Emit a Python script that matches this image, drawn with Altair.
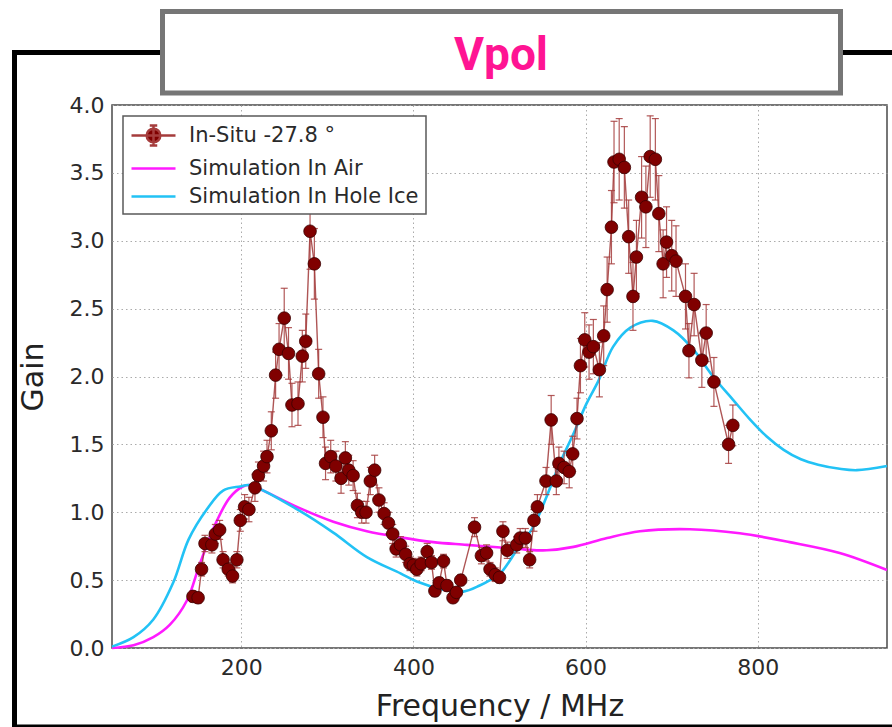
import altair as alt
import pandas as pd

# ---------------- data ----------------
FREQ = [144, 150, 154, 158, 166, 170, 175, 179, 185, 190, 195, 199, 204, 209, 216, 220,
        226, 230, 235, 240, 244, 250, 255, 259, 266, 271, 275, 280, 285, 290, 295, 298,
        304, 310, 316, 321, 325, 330, 335, 340, 345, 350, 355, 360, 366, 371, 376, 380,
        385, 391, 396, 400, 404, 409, 416, 421, 425, 430, 435, 439, 446, 450, 455, 471,
        479, 485, 489, 495, 500, 504, 509, 520, 524, 530, 535, 540, 544, 554, 560, 566,
        569, 575, 581, 585, 590, 594, 599, 604, 609, 616, 621, 625, 630, 633, 639, 645,
        650, 655, 659, 665, 670, 675, 681, 685, 690, 694, 700, 705, 716, 720, 726, 735,
        740, 749, 766, 771]
GAIN = [0.38, 0.37, 0.58, 0.77, 0.76, 0.84, 0.87, 0.65, 0.58, 0.53, 0.65, 0.94, 1.04, 1.02, 1.18, 1.27,
        1.34, 1.41, 1.60, 2.01, 2.20, 2.43, 2.17, 1.79, 1.80, 2.15, 2.26, 3.07, 2.83, 2.02, 1.70, 1.36,
        1.41, 1.34, 1.25, 1.40, 1.31, 1.27, 1.05, 1.00, 1.00, 1.23, 1.31, 1.09, 0.99, 0.92, 0.84, 0.73,
        0.76, 0.69, 0.62, 0.61, 0.58, 0.62, 0.71, 0.63, 0.42, 0.48, 0.64, 0.46, 0.37, 0.41, 0.50, 0.89,
        0.68, 0.70, 0.58, 0.54, 0.52, 0.86, 0.72, 0.76, 0.81, 0.81, 0.65, 0.94, 1.04, 1.23, 1.68, 1.23,
        1.36, 1.33, 1.30, 1.43, 1.69, 2.08, 2.27, 2.18, 2.22, 2.05, 2.30, 2.64, 3.10, 3.58, 3.60, 3.54,
        3.03, 2.59, 2.88, 3.32, 3.25, 3.62, 3.60, 3.20, 2.83, 2.99, 2.89, 2.85, 2.59, 2.19, 2.53, 2.12,
        2.32, 1.96, 1.50, 1.64]
ERR = [0.04, 0.04, 0.05, 0.06, 0.06, 0.07, 0.07, 0.06, 0.05, 0.05, 0.06, 0.08, 0.09, 0.09, 0.10, 0.10,
       0.11, 0.12, 0.14, 0.17, 0.19, 0.22, 0.19, 0.16, 0.16, 0.19, 0.20, 0.28, 0.26, 0.18, 0.15, 0.12,
       0.12, 0.11, 0.11, 0.12, 0.11, 0.11, 0.09, 0.08, 0.08, 0.10, 0.11, 0.09, 0.08, 0.08, 0.07, 0.06,
       0.06, 0.06, 0.05, 0.05, 0.05, 0.05, 0.06, 0.05, 0.04, 0.04, 0.05, 0.04, 0.03, 0.04, 0.04, 0.07,
       0.06, 0.06, 0.05, 0.05, 0.04, 0.07, 0.06, 0.06, 0.07, 0.07, 0.06, 0.08, 0.09, 0.10, 0.18, 0.10,
       0.12, 0.12, 0.12, 0.13, 0.15, 0.20, 0.20, 0.20, 0.20, 0.20, 0.22, 0.24, 0.27, 0.30, 0.30, 0.30,
       0.27, 0.25, 0.27, 0.30, 0.30, 0.30, 0.30, 0.28, 0.25, 0.26, 0.26, 0.26, 0.24, 0.20, 0.23, 0.20,
       0.21, 0.18, 0.14, 0.15]

AIR_F = [50, 75, 98, 117, 137, 152, 172, 187, 202, 210, 222, 268, 307, 346, 385, 423, 462,
         501, 530, 555, 586, 625, 663, 721, 779, 837, 895, 950]
AIR_G = [0.0, 0.02, 0.08, 0.17, 0.35, 0.62, 0.94, 1.11, 1.19, 1.20, 1.17, 1.03, 0.93, 0.86,
         0.815, 0.78, 0.76, 0.74, 0.725, 0.72, 0.745, 0.81, 0.86, 0.875, 0.845, 0.78, 0.70, 0.575]

ICE_F = [50, 75, 98, 121, 139, 160, 179, 199, 210, 268, 307, 346, 385, 404, 435, 458, 477,
         489, 501, 520, 539, 555, 570, 586, 601, 615, 632, 652, 678, 702, 725, 748, 771,
         790, 810, 830, 850, 870, 895, 915, 950]
ICE_G = [0.01, 0.08, 0.21, 0.48, 0.80, 1.02, 1.16, 1.19, 1.20, 1.01, 0.85, 0.67, 0.55, 0.49,
         0.43, 0.415, 0.46, 0.50, 0.55, 0.72, 0.89, 1.12, 1.36, 1.58, 1.80, 1.97, 2.22, 2.36,
         2.41, 2.34, 2.20, 2.00, 1.83, 1.69, 1.56, 1.46, 1.39, 1.35, 1.32, 1.31, 1.34]

SERIES = ["In-Situ -27.8 °", "Simulation In Air", "Simulation In Hole Ice"]
TITLE = "Vpol"
X_TICKS = [200, 400, 600, 800]
Y_TICKS = [0.0, 0.5, 1.0, 1.5, 2.0, 2.5, 3.0, 3.5, 4.0]

# ---------------- tables ----------------
insitu = pd.DataFrame({"freq": FREQ, "gain": GAIN, "err": ERR})
insitu["lo"] = insitu["gain"] - insitu["err"]
insitu["hi"] = insitu["gain"] + insitu["err"]

sims = pd.concat([
    pd.DataFrame({"freq": AIR_F, "gain": AIR_G, "series": SERIES[1]}),
    pd.DataFrame({"freq": ICE_F, "gain": ICE_G, "series": SERIES[2]}),
])
legend_df = pd.DataFrame({"series": SERIES})

W, H = 775, 543
PAD_L, PAD_T = 112, 105

C_PT = "#800000"
C_ERR = "#a53c3c"
C_AIR = "#ff1aff"
C_ICE = "#22c2f5"

xs = alt.Scale(domain=[50, 950], nice=False, zero=False)
ys = alt.Scale(domain=[0, 4], nice=False)

X = alt.X("freq:Q", scale=xs, axis=alt.Axis(
    values=X_TICKS, title="Frequency / MHz", format="d"))
Y = alt.Y("gain:Q", scale=ys, axis=alt.Axis(
    values=Y_TICKS, title="Gain", format=".1f"))

# ---------------- slide decorations ----------------
one = alt.Data(values=[{"a": 1}])
frame = alt.Chart(one).mark_rect(fill=None, stroke="black", strokeWidth=5).encode(
    x=alt.value(-97.5), x2=alt.value(W + 40), y=alt.value(-52.5), y2=alt.value(622))
title_box = alt.Chart(one).mark_rect(fill="white", stroke="#767676", strokeWidth=5).encode(
    x=alt.value(50.5), x2=alt.value(728.5), y=alt.value(-93.5), y2=alt.value(-12))
title_txt = alt.Chart(one).mark_text(
    text=TITLE, font="Roboto", fontSize=46, fontWeight="bold", color="#ff1493",
    align="center", baseline="alphabetic").encode(x=alt.value(389), y=alt.value(-35))

# ---------------- data layers ----------------
sim_lines = alt.Chart(sims).mark_line(strokeWidth=2.6, interpolate="catmull-rom").encode(
    x=X, y=Y,
    color=alt.Color("series:N", scale=alt.Scale(domain=SERIES[1:], range=[C_AIR, C_ICE]),
                    legend=None))

conn = alt.Chart(insitu).mark_line(color="#9a2a2a", strokeWidth=1.4, opacity=0.8).encode(x=X, y=Y)
bars = alt.Chart(insitu).mark_rule(color=C_ERR, strokeWidth=1.2, opacity=0.85).encode(
    x="freq:Q", y="lo:Q", y2="hi:Q")
cap_lo = alt.Chart(insitu).mark_tick(color=C_ERR, orient="horizontal", size=7, thickness=1.2,
                                     opacity=0.85).encode(x="freq:Q", y="lo:Q")
cap_hi = alt.Chart(insitu).mark_tick(color=C_ERR, orient="horizontal", size=7, thickness=1.2,
                                     opacity=0.85).encode(x="freq:Q", y="hi:Q")
pts = alt.Chart(insitu).mark_point(filled=True, shape="circle", size=160, fill=C_PT,
                                   stroke="#3a0000", strokeWidth=0.8, opacity=1).encode(x=X, y=Y)

# ---------------- legend (library legend, custom symbols) ----------------
# symbol size 484 -> r = 11 px; paths drawn from -1..3 so the 44 px sample sits in the symbol column
ERR_SYM = ("M -1 0 L 3 0 M 1 -0.9 L 1 0.9 M 0.66 -0.9 L 1.34 -0.9 "
           "M 0.66 0.9 L 1.34 0.9 "
           "M 0.38 0 A 0.62 0.62 0 1 0 1.62 0 A 0.62 0.62 0 1 0 0.38 0 Z")
LINE_SYM = "M -1 0 L 3 0"
leg = alt.Legend(title=None)
legend_layer = alt.Chart(legend_df).mark_point(filled=True).encode(
    x=alt.value(0), y=alt.value(0), opacity=alt.value(0),
    fill=alt.Fill("series:N", scale=alt.Scale(domain=SERIES, range=[C_PT, C_AIR, C_ICE]), legend=leg),
    stroke=alt.Stroke("series:N", scale=alt.Scale(domain=SERIES, range=[C_ERR, C_AIR, C_ICE]), legend=leg),
    shape=alt.Shape("series:N", scale=alt.Scale(domain=SERIES, range=[ERR_SYM, LINE_SYM, LINE_SYM]),
                    legend=leg),
)

chart = alt.layer(
    frame, title_box, title_txt, sim_lines, conn, bars, cap_lo, cap_hi, pts, legend_layer
).resolve_scale(color="independent").properties(
    width=W, height=H,
    autosize=alt.AutoSizeParams(type="none"),
    padding={"left": PAD_L, "top": PAD_T, "right": 892 - PAD_L - W, "bottom": 727 - PAD_T - H},
    background="white",
).configure_view(
    stroke="#4a4a4a", strokeWidth=1.5
).configure_axis(
    labelFont="DejaVu Sans", labelFontSize=22, labelColor="#2a2a2a",
    titleFont="DejaVu Sans", titleFontSize=30, titleFontWeight="normal", titleColor="#222",
    grid=True, gridColor="#ababab", gridDash=[1.5, 3], gridWidth=1,
    ticks=False, domain=False, labelPadding=8,
).configure_axisX(
    titleY=67, titleBaseline="alphabetic", labelPadding=9,
).configure_axisY(
    titleX=-70, titleY=H / 2, titleAngle=-90, titleBaseline="alphabetic", titleAlign="center",
).configure_legend(
    orient="none", legendX=11, legendY=11, padding=7,
    strokeColor="#5a5a5a", strokeWidth=1.5, fillColor="white",
    labelFont="DejaVu Sans", labelFontSize=21, labelColor="#2a2a2a", labelOffset=34,
    labelLimit=500, symbolSize=484, symbolStrokeWidth=2.5, symbolOpacity=1, rowPadding=5,
)

chart.save("out.html", embed_options={"renderer": "svg", "actions": False})
